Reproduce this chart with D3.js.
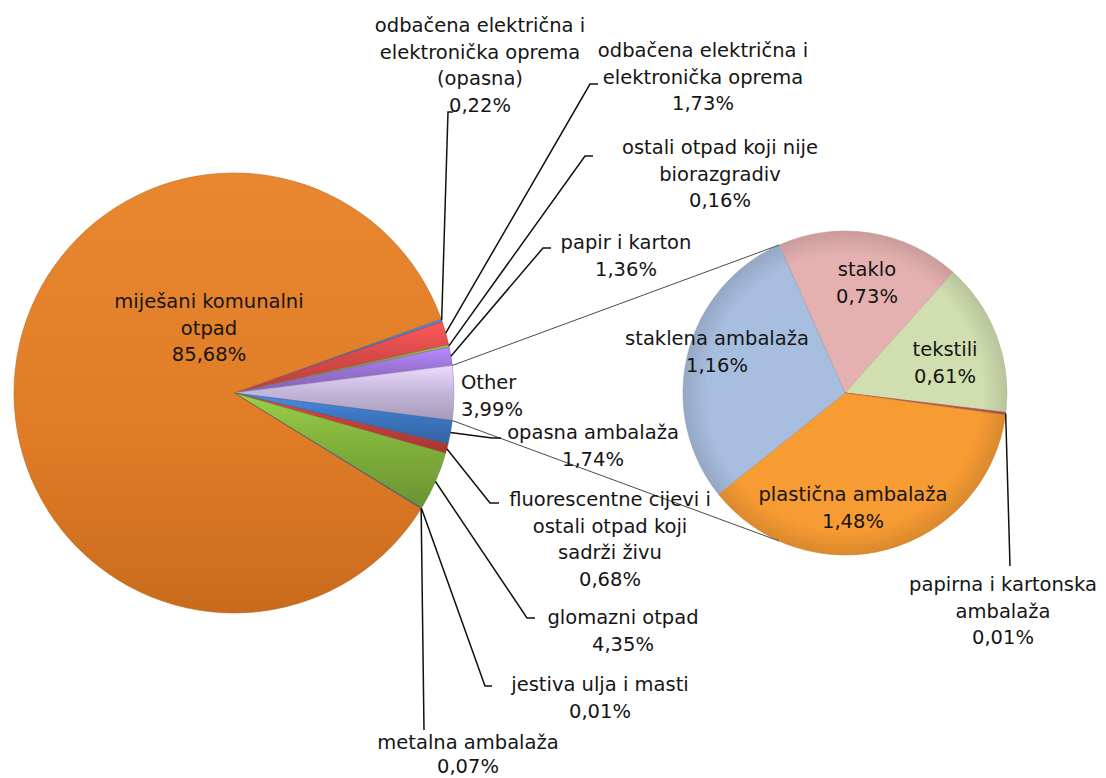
<!DOCTYPE html>
<html>
<head>
<meta charset="utf-8">
<script src="https://cdn.jsdelivr.net/npm/d3@7"></script>
<style>
  body { margin: 0; background: #fff; }
  text { font-family: "DejaVu Sans", sans-serif; font-size: 19.5px; fill: #151515; }
</style>
</head>
<body>
<svg width="1106" height="778"></svg>
<script>
// main pie, clockwise, starting with the first small slice above "Other"
var mainNames = [
  "odbačena električna i|elektronička oprema|(opasna)",
  "odbačena električna i|elektronička oprema",
  "ostali otpad koji nije|biorazgradiv",
  "papir i karton",
  "Other",
  "opasna ambalaža",
  "fluorescentne cijevi i|ostali otpad koji|sadrži živu",
  "glomazni otpad",
  "jestiva ulja i masti",
  "metalna ambalaža",
  "miješani komunalni|otpad"
];
var mainValues = [0.22, 1.73, 0.16, 1.36, 3.99, 1.74, 0.68, 4.35, 0.01, 0.07, 85.68];
var mainColors = ["#3d76c0", "#d94a4a", "#80b03c", "#9b74d6", "#c6b8dc", "#3d76c0",
                  "#c8403a", "#80b03c", "#3d76c0", "#8064a2", "#e5822b"];

// secondary pie (breakdown of "Other"), clockwise from the upper connector
var otherNames = ["staklo", "tekstili", "papirna i kartonska|ambalaža", "plastična ambalaža", "staklena ambalaža"];
var otherValues = [0.73, 0.61, 0.01, 1.48, 1.16];
var otherColors = ["#e5b1b0", "#d1deb0", "#c0504d", "#f79b33", "#a8bedf"];

var otherIndex = 4;
var fmt = function(v) { return d3.format(".2f")(v).replace(".", ",") + "%"; };
var rad = Math.PI / 180;

var svg = d3.select("svg");
var defs = svg.append("defs");

// ---- main pie ----
var cx = 234, cy = 393, r = 220;
var total = d3.sum(mainValues);
// rotate so that "Other" points straight right
var before = d3.sum(mainValues.slice(0, otherIndex));
var start = Math.PI / 2 - (before + mainValues[otherIndex] / 2) / total * 2 * Math.PI;

var mainPie = d3.pie().sort(null).startAngle(start).endAngle(start + 2 * Math.PI);
var mainArcs = mainPie(mainValues);
var arc = d3.arc().innerRadius(0).outerRadius(r);

mainColors.forEach(function(c, i) {
  var g = defs.append("linearGradient").attr("id", "mg" + i)
      .attr("x1", 0).attr("y1", 0).attr("x2", 0).attr("y2", 1);
  var base = d3.color(c);
  if (i == mainColors.length - 1) {
    g.append("stop").attr("offset", 0).attr("stop-color", "#e98731");
    g.append("stop").attr("offset", 0.6).attr("stop-color", "#e07c26");
    g.append("stop").attr("offset", 1).attr("stop-color", "#c96a1c");
  } else {
    g.append("stop").attr("offset", 0).attr("stop-color", base.brighter(0.5));
    g.append("stop").attr("offset", 0.45).attr("stop-color", base);
    g.append("stop").attr("offset", 1).attr("stop-color", base.darker(0.5));
  }
});

var mainG = svg.append("g").attr("transform", "translate(" + cx + "," + cy + ")");
mainG.selectAll("path")
  .data(mainArcs)
  .enter().append("path")
    .attr("d", arc)
    .attr("fill", function(d, i) { return "url(#mg" + i + ")"; })
    .attr("stroke", function(d, i) { return d3.color(mainColors[i]).darker(0.6); })
    .attr("stroke-width", 0.6);

// ---- secondary pie ----
var cx2 = 845, cy2 = 393, r2 = 162;
var start2 = -24 * rad;
var subPie = d3.pie().sort(null).startAngle(start2).endAngle(start2 + 2 * Math.PI);
var subArcs = subPie(otherValues);
var arc2 = d3.arc().innerRadius(0).outerRadius(r2);

otherColors.forEach(function(c, i) {
  var g = defs.append("radialGradient").attr("id", "sg" + i)
      .attr("gradientUnits", "userSpaceOnUse")
      .attr("cx", 0).attr("cy", 0).attr("r", r2);
  g.append("stop").attr("offset", 0.85).attr("stop-color", c);
  g.append("stop").attr("offset", 1).attr("stop-color", d3.color(c).darker(0.35));
});

var subG = svg.append("g").attr("transform", "translate(" + cx2 + "," + cy2 + ")");
subG.selectAll("path")
  .data(subArcs)
  .enter().append("path")
    .attr("d", arc2)
    .attr("fill", function(d, i) { return "url(#sg" + i + ")"; })
    .attr("stroke", function(d, i) { return d3.color(otherColors[i]).darker(0.5); })
    .attr("stroke-width", 0.6);

// connector lines between the "Other" slice and the secondary pie
var o = mainArcs[otherIndex];
function pt(x0, y0, rr, a) { return [x0 + rr * Math.sin(a), y0 - rr * Math.cos(a)]; }
var conn = [
  [pt(cx, cy, r, o.startAngle), pt(cx2, cy2, r2, start2)],
  [pt(cx, cy, r, o.endAngle), pt(cx2, cy2, r2, Math.PI - start2)]
];
svg.selectAll(".conn")
  .data(conn)
  .enter().append("line")
    .attr("class", "conn")
    .attr("x1", function(d) { return d[0][0]; })
    .attr("y1", function(d) { return d[0][1]; })
    .attr("x2", function(d) { return d[1][0]; })
    .attr("y2", function(d) { return d[1][1]; })
    .attr("stroke", "#4a4a4a")
    .attr("stroke-width", 1);

// label layout: text centre x, first baseline y, anchor; leader end point and stub
var mainLabelPos = [
  { x: 480, y: 32, lead: [448, 112], stub: 5 },
  { x: 703, y: 57, lead: [590, 84], stub: 8 },
  { x: 720, y: 154, lead: [585, 156], stub: 8 },
  { x: 626, y: 249, lead: [543, 248], stub: 8 },
  { x: 461, y: 389, anchor: "start" },
  { x: 593, y: 439, lead: [492, 438], stub: 9 },
  { x: 610, y: 506, lead: [490, 503], stub: 9 },
  { x: 623, y: 624, lead: [527, 618], stub: 8 },
  { x: 600, y: 691, lead: [485, 686], stub: 7 },
  { x: 468, y: 749, lead: [424, 730], stub: 0, lh: 24 },
  { x: 209, y: 308 }
];
var subLabelPos = [
  { x: 867, y: 276 },
  { x: 945, y: 356 },
  { x: 1003, y: 591, lead: [1010, 566], stub: 0 },
  { x: 853, y: 501 },
  { x: 717, y: 345 }
];

var lineH = 26.5;

function drawLabels(arcs, names, pos, x0, y0, rr) {
  arcs.forEach(function(d, i) {
    var p = pos[i];
    if (p.lead) {
      var mid = (d.startAngle + d.endAngle) / 2;
      var s = pt(x0, y0, rr, mid);
      svg.append("polyline")
        .attr("points", [s, p.lead, [p.lead[0] + p.stub, p.lead[1]]].map(function(q) { return q.join(","); }).join(" "))
        .attr("fill", "none")
        .attr("stroke", "#111")
        .attr("stroke-width", 1.5);
    }
    var lines = names[i].split("|").concat([fmt(d.data)]);
    var t = svg.append("text")
      .attr("text-anchor", p.anchor || "middle");
    lines.forEach(function(l, k) {
      t.append("tspan").attr("x", p.x).attr("y", p.y + k * (p.lh || lineH)).text(l);
    });
  });
}

drawLabels(mainArcs, mainNames, mainLabelPos, cx, cy, r);
drawLabels(subArcs, otherNames, subLabelPos, cx2, cy2, r2);
</script>
</body>
</html>
